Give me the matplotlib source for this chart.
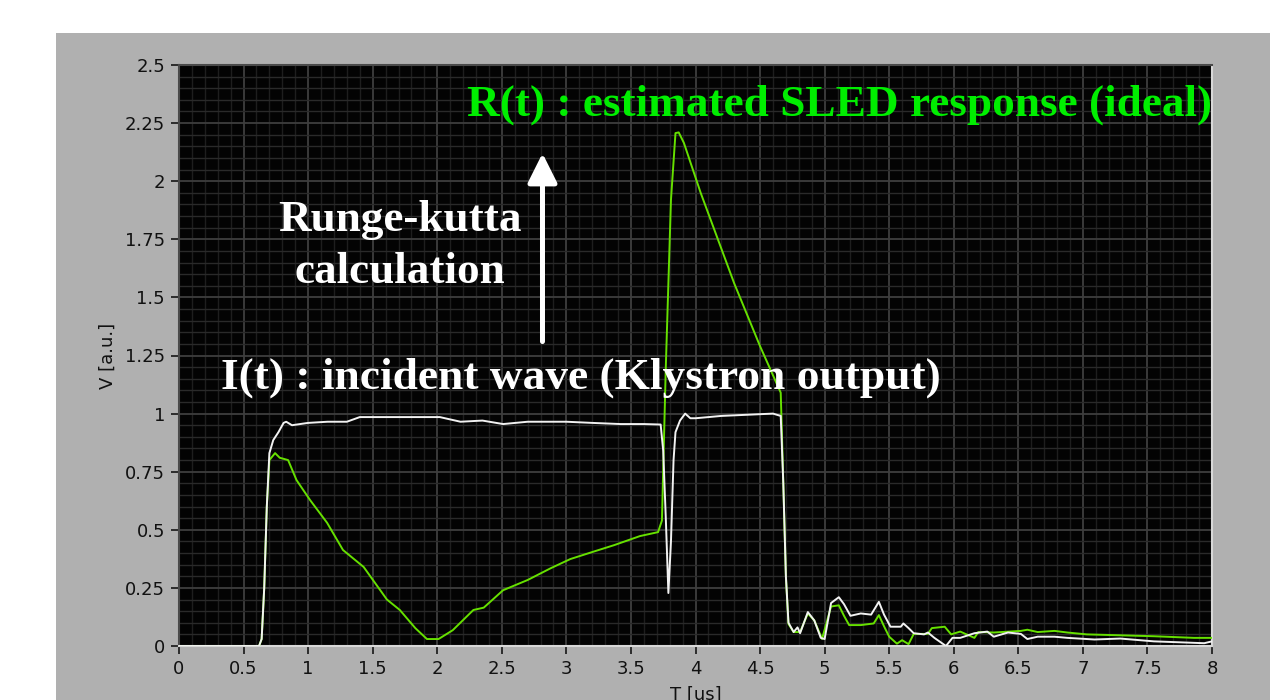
import matplotlib
matplotlib.use("Agg")
import matplotlib.pyplot as plt
from matplotlib.ticker import MultipleLocator, FixedLocator

# ---------------- data ----------------
t_incident = [0.0, 0.62, 0.64, 0.66, 0.68, 0.70, 0.73, 0.77, 0.81, 0.83, 0.875,
              1.0, 1.15, 1.30, 1.40, 1.6, 1.8, 2.02, 2.18, 2.35, 2.51, 2.7, 2.85,
              3.0, 3.2, 3.42, 3.6, 3.73, 3.75, 3.77, 3.79, 3.81, 3.83, 3.845, 3.88,
              3.92, 3.96, 4.0, 4.2, 4.4, 4.6, 4.66, 4.68, 4.70, 4.72, 4.76, 4.79,
              4.81, 4.87, 4.92, 4.97, 5.0, 5.05, 5.11, 5.15, 5.2, 5.28, 5.36, 5.42,
              5.46, 5.51, 5.59, 5.61, 5.65, 5.69, 5.77, 5.8, 5.85, 5.94, 5.99, 6.05,
              6.16, 6.26, 6.31, 6.42, 6.52, 6.57, 6.65, 6.78, 6.88, 7.09, 7.29, 7.55,
              7.94, 8.0]
v_incident = [0.0, 0.0, 0.03, 0.25, 0.60, 0.83, 0.886, 0.92, 0.96, 0.965, 0.95,
              0.96, 0.965, 0.965, 0.985, 0.985, 0.985, 0.985, 0.965, 0.97, 0.955, 0.965, 0.965,
              0.965, 0.96, 0.955, 0.955, 0.953, 0.84, 0.55, 0.228, 0.45, 0.80, 0.92, 0.97,
              1.0, 0.98, 0.98, 0.99, 0.995, 1.0, 0.99, 0.70, 0.30, 0.10, 0.06, 0.08,
              0.055, 0.146, 0.11, 0.035, 0.03, 0.185, 0.21, 0.18, 0.13, 0.14, 0.135, 0.19,
              0.135, 0.083, 0.083, 0.097, 0.077, 0.055, 0.05, 0.058, 0.035, 0.0, 0.035, 0.035,
              0.055, 0.062, 0.04, 0.058, 0.052, 0.03, 0.04, 0.04, 0.035, 0.028, 0.032, 0.02,
              0.012, 0.02]

t_response = [0.0, 0.62, 0.64, 0.66, 0.68, 0.70, 0.744, 0.78, 0.845, 0.91, 1.015,
              1.147, 1.27, 1.43, 1.61, 1.71, 1.83, 1.92, 2.01, 2.12, 2.28, 2.36, 2.51,
              2.70, 2.88, 3.03, 3.21, 3.37, 3.57, 3.71, 3.74, 3.77, 3.81, 3.845, 3.87,
              3.91, 4.04, 4.30, 4.50, 4.64, 4.66, 4.68, 4.70, 4.72, 4.76, 4.81, 4.87,
              4.92, 4.98, 5.05, 5.11, 5.15, 5.19, 5.28, 5.38, 5.42, 5.46, 5.5, 5.56,
              5.6, 5.65, 5.69, 5.8, 5.83, 5.93, 5.98, 6.05, 6.16, 6.19, 6.31, 6.52,
              6.57, 6.65, 6.78, 6.88, 7.03, 7.29, 7.55, 7.86, 8.0]
v_response = [0.0, 0.0, 0.03, 0.25, 0.60, 0.80, 0.83, 0.81, 0.80, 0.714, 0.628,
              0.53, 0.413, 0.34, 0.20, 0.155, 0.077, 0.03, 0.03, 0.068, 0.155, 0.165, 0.24,
              0.284, 0.335, 0.374, 0.406, 0.434, 0.473, 0.49, 0.54, 1.2, 1.92, 2.207, 2.21,
              2.165, 1.95, 1.56, 1.29, 1.115, 1.09, 0.70, 0.30, 0.095, 0.06, 0.06, 0.14,
              0.11, 0.03, 0.17, 0.175, 0.13, 0.09, 0.09, 0.097, 0.133, 0.085, 0.04, 0.01,
              0.025, 0.008, 0.052, 0.052, 0.077, 0.083, 0.05, 0.062, 0.035, 0.06, 0.058, 0.065,
              0.07, 0.06, 0.065, 0.058, 0.05, 0.046, 0.042, 0.035, 0.035]

x_ticks = [0, 0.5, 1, 1.5, 2, 2.5, 3, 3.5, 4, 4.5, 5, 5.5, 6, 6.5, 7, 7.5, 8]
x_tick_labels = ["0", "0.5", "1", "1.5", "2", "2.5", "3", "3.5", "4", "4.5",
                 "5", "5.5", "6", "6.5", "7", "7.5", "8"]
y_ticks = [0, 0.25, 0.5, 0.75, 1, 1.25, 1.5, 1.75, 2, 2.25, 2.5]
y_tick_labels = ["0", "0.25", "0.5", "0.75", "1", "1.25", "1.5", "1.75", "2", "2.25", "2.5"]

# ---------------- figure ----------------
W, H = 1278, 700
fig = plt.figure(figsize=(W / 100, H / 100), dpi=100, facecolor="white")

# gray panel (behind the axes)
panel = fig.add_axes([56 / W, 0, (1270 - 56) / W, (H - 33) / H], zorder=-5)
panel.set_facecolor("#b0b0b0")
panel.set_xticks([])
panel.set_yticks([])
for s in panel.spines.values():
    s.set_visible(False)

left, right, top, bottom = 179, 1212, 65, 646
ax = fig.add_axes([left / W, (H - bottom) / H, (right - left) / W, (bottom - top) / H], zorder=1)
ax.set_facecolor("#030303")

ax.set_xlim(0, 8)
ax.set_ylim(0, 2.5)

ax.xaxis.set_major_locator(FixedLocator(x_ticks))
ax.yaxis.set_major_locator(FixedLocator(y_ticks))
ax.set_xticklabels(x_tick_labels)
ax.set_yticklabels(y_tick_labels)
ax.xaxis.set_minor_locator(MultipleLocator(0.1))
ax.yaxis.set_minor_locator(MultipleLocator(0.05))

ax.grid(which="major", color="#3e3e3e", linewidth=1.3, zorder=0)
ax.grid(which="minor", axis="x", color="#1e1e1e", linewidth=1.0, zorder=0)
ax.grid(which="minor", axis="y", color="#2a2a2a", linewidth=1.0, zorder=0)
ax.set_axisbelow(True)

ax.tick_params(which="minor", length=0)
ax.tick_params(which="major", length=6, width=1.3, color="#222222",
               labelsize=13, labelcolor="#111111", pad=4)
for lab in ax.get_xticklabels() + ax.get_yticklabels():
    lab.set_fontfamily("DejaVu Sans")

for s in ("left", "top"):
    ax.spines[s].set_color("#4a4a4a")
    ax.spines[s].set_linewidth(1.5)
for s in ("right", "bottom"):
    ax.spines[s].set_color("#d8d8d8")
    ax.spines[s].set_linewidth(1.5)

ax.plot(t_response, v_response, color="#66e000", linewidth=1.4, zorder=3)
ax.plot(t_incident, v_incident, color="#f2f2f2", linewidth=1.4, zorder=4)

ax.set_ylabel("V [a.u.]", fontsize=13, color="#111111", labelpad=6)
ax.set_xlabel("T [us]", fontsize=13, color="#111111", labelpad=6)

# annotations
serif = "Liberation Serif"
ax.text(8.0, 2.33, "R(t) : estimated SLED response (ideal)", color="#00ee00",
        fontsize=32.6, fontweight="bold", family=serif, ha="right", va="center", zorder=6)
ax.text(1.713, 1.833, "Runge-kutta", color="white", fontsize=32.5, fontweight="bold",
        family=serif, ha="center", va="center", zorder=6)
ax.text(1.713, 1.61, "calculation", color="white", fontsize=32.5, fontweight="bold",
        family=serif, ha="center", va="center", zorder=6)
ax.text(3.109, 1.153, "I(t) : incident wave (Klystron output)", color="white",
        fontsize=32.7, fontweight="bold", family=serif, ha="center", va="center", zorder=6)
ax.annotate("", xy=(2.815, 2.12), xytext=(2.815, 1.31),
            arrowprops=dict(arrowstyle="-|>,head_length=1.8,head_width=0.9",
                            color="white", lw=3.6, shrinkA=0, shrinkB=0), zorder=6)

fig.savefig("out.png", dpi=100, facecolor="white")
